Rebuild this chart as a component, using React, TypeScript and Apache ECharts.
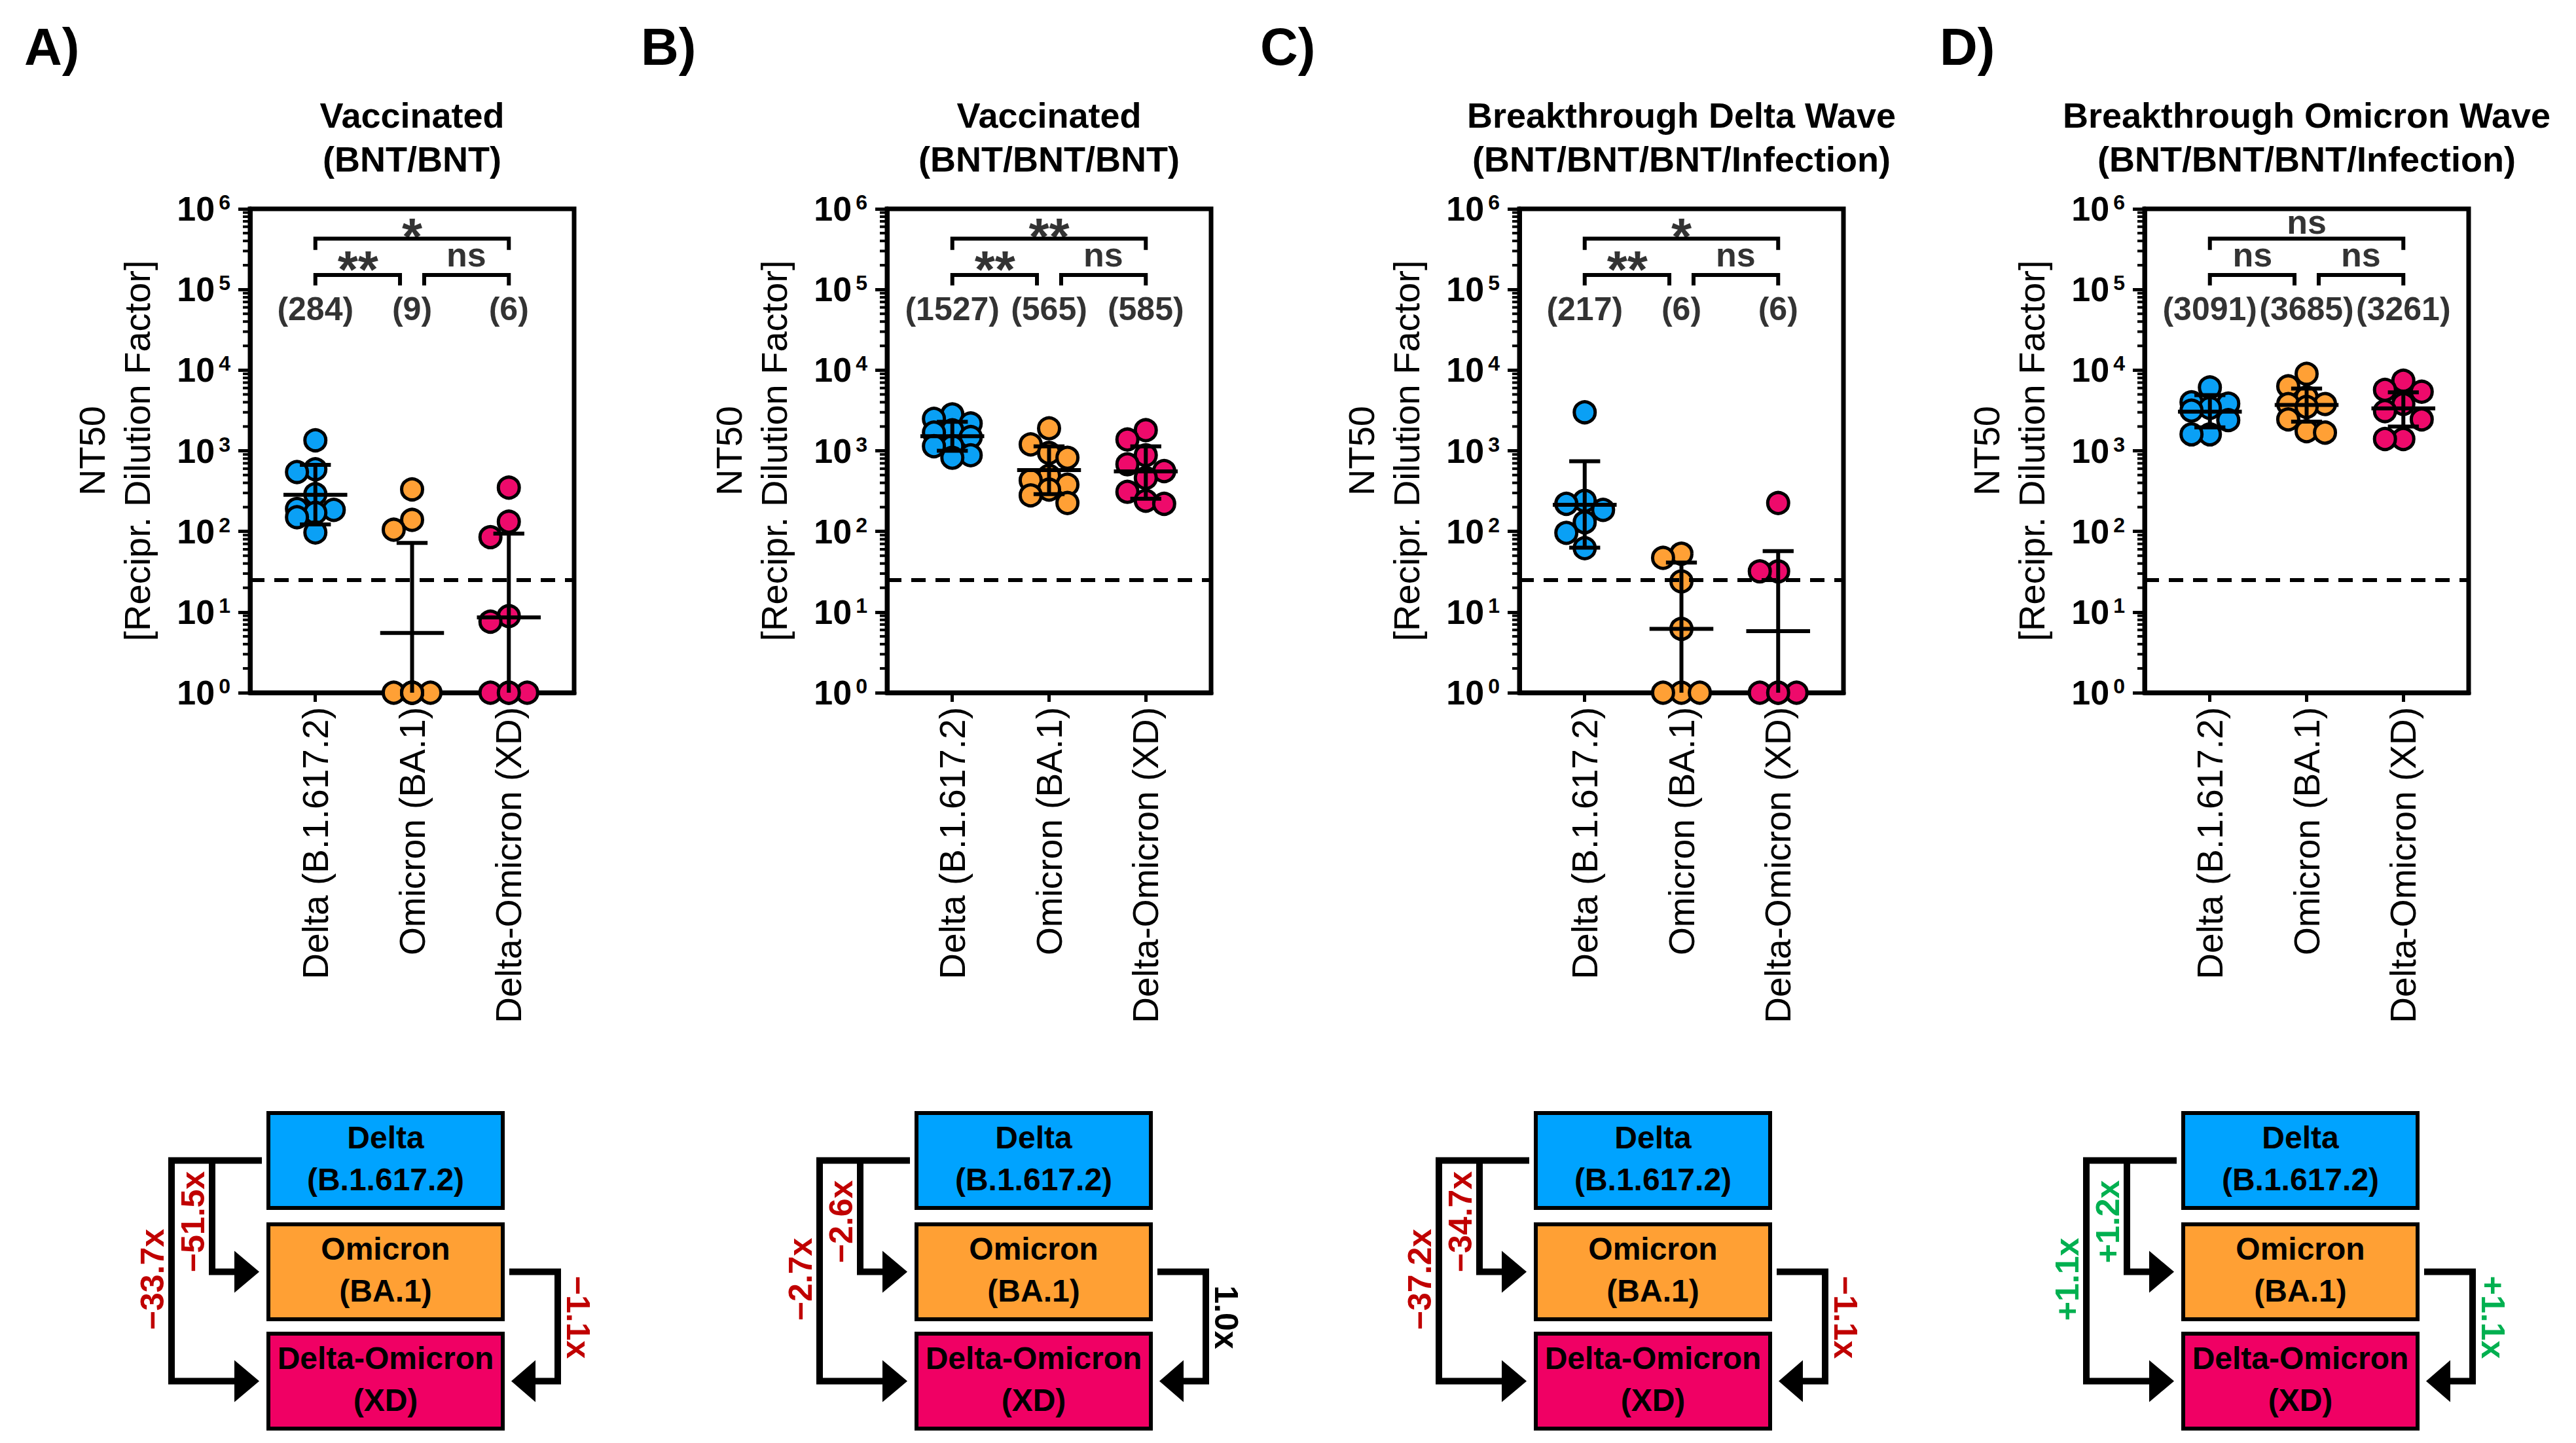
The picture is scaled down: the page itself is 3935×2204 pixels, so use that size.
import React, { useEffect, useRef } from 'react';
import * as echarts from 'echarts';

const FONT = "'Liberation Sans', Arial, Helvetica, sans-serif";

// ---------- data ----------
const categories = ['Delta (B.1.617.2)', 'Omicron (BA.1)', 'Delta-Omicron (XD)'];
const panelLetters = ['A)', 'B)', 'C)', 'D)'];
const panelTitles = [
  'Vaccinated\n(BNT/BNT)',
  'Vaccinated\n(BNT/BNT/BNT)',
  'Breakthrough Delta Wave\n(BNT/BNT/BNT/Infection)',
  'Breakthrough Omicron Wave\n(BNT/BNT/BNT/Infection)',
];

// individual NT50 values
const deltaA = [1350, 590, 545, 290, 190, 185, 170, 150, 97];
const omicronA = [332, 139, 105, 1, 1, 1, 1, 1, 1];
const xdA = [349, 132, 85, 8.9, 7.6, 1, 1, 1, 1];
const deltaB = [2830, 2490, 2180, 1795, 1680, 1480, 1140, 1140, 880, 820];
const omicronB = [1900, 1200, 940, 820, 490, 430, 380, 330, 280, 225];
const xdB = [1800, 1380, 880, 680, 560, 460, 310, 240, 220];
const deltaC = [3000, 240, 220, 185, 130, 96, 62];
const omicronC = [53, 47, 24, 6.2, 1, 1, 1];
const xdC = [225, 32, 32, 1, 1, 1, 1];
const deltaD = [6100, 4000, 3850, 3400, 3150, 2400, 1600, 1600];
const omicronD = [9000, 6300, 4600, 3800, 3800, 3500, 2450, 1750, 1680];
const xdD = [7400, 5700, 5400, 3800, 3100, 2450, 1400, 1400];

// mean lines and error bars as drawn
const meanA = [284, 5.5, 8.6];
const errLowA = [122, 1, 1];
const errHighA = [670, 72, 94];
const meanB = [1515, 575, 556];
const errLowB = [1000, 290, 254];
const errHighB = [2290, 1137, 1137];
const meanC = [214, 6.2, 5.8];
const errLowC = [63, 1, 1];
const errHighC = [740, 41, 57];
const meanD = [3060, 3700, 3360];
const errLowD = [1950, 2300, 2000];
const errHighD = [4900, 5900, 5300];

// geometric mean titre labels
const gmtA = [284, 9, 6];
const gmtB = [1527, 565, 585];
const gmtC = [217, 6, 6];
const gmtD = [3091, 3685, 3261];

// significance: [Delta vs XD (top), Delta vs Omicron, Omicron vs XD]
const sigA = ['*', '**', 'ns'];
const sigB = ['**', '**', 'ns'];
const sigC = ['*', '**', 'ns'];
const sigD = ['ns', 'ns', 'ns'];

// fold changes
const foldDeltaOmicron = [-51.5, -2.6, -34.7, 1.2];
const foldDeltaXD = [-33.7, -2.7, -37.2, 1.1];
const foldOmicronXD = [-1.1, 1.0, -1.1, 1.1];

const detectionLimit = 25;
const boxLabels = ['Delta\n(B.1.617.2)', 'Omicron\n(BA.1)', 'Delta-Omicron\n(XD)'];

// ---------- styles / layout ----------
const pointColors = ['#0AA0F5', '#FFA035', '#EE0A6B'];
const boxColors = ['#00A3FF', '#FFA034', '#F00064'];
const RED = '#C00000';
const GREEN = '#00B050';

const gridLefts = [382, 1355, 2321, 3276];
const GRID_TOP = 319;
const GRID_W = 495;
const GRID_H = 739;
const X_MIN = -0.675;
const X_MAX = 2.675;
const letterX = [37, 979, 1925, 2963];
const boxLefts = [410, 1400, 2346, 3335];
const BOX_W = 358;
const boxTops = [1700, 1870, 2037];
const BOX_H = 145;

const panels = [
  { values: [deltaA, omicronA, xdA], mean: meanA, lo: errLowA, hi: errHighA, gmt: gmtA, sig: sigA },
  { values: [deltaB, omicronB, xdB], mean: meanB, lo: errLowB, hi: errHighB, gmt: gmtB, sig: sigB },
  { values: [deltaC, omicronC, xdC], mean: meanC, lo: errLowC, hi: errHighC, gmt: gmtC, sig: sigC },
  { values: [deltaD, omicronD, xdD], mean: meanD, lo: errLowD, hi: errHighD, gmt: gmtD, sig: sigD },
];

function swarm(values: number[]): number[] {
  const pxX = GRID_W / (X_MAX - X_MIN);
  const pxY = GRID_H / 6;
  const cands = [0, -0.19, 0.19, -0.1, 0.1];
  const placed: { x: number; y: number }[] = [];
  return values.map((v) => {
    const y = Math.log10(v) * pxY;
    let best = 0;
    let bestD = -1;
    let chosen: number | null = null;
    for (let k = 0; k < cands.length; k++) {
      const x = cands[k] * pxX;
      let md = Infinity;
      for (const p of placed) md = Math.min(md, Math.hypot(p.x - x, p.y - y));
      if (md >= 28) {
        chosen = cands[k];
        break;
      }
      if (k < 3 && md > bestD) {
        bestD = md;
        best = cands[k];
      }
    }
    const off = chosen ?? best;
    placed.push({ x: off * pxX, y });
    return off;
  });
}

const fmtFold = (v: number) =>
  v < 0 ? '\u2212' + Math.abs(v).toFixed(1) + 'x' : v === 1 ? '1.0x' : '+' + v.toFixed(1) + 'x';
const foldColor = (v: number) => (v < 0 ? RED : v === 1 ? '#000' : GREEN);

function buildOption() {
  const grids: any[] = [];
  const xAxes: any[] = [];
  const yAxes: any[] = [];
  const series: any[] = [];
  const graphics: any[] = [];

  const minorValues: number[][] = [];
  for (let k = 0; k < 6; k++) for (let m = 2; m <= 9; m++) minorValues.push([X_MIN, m * Math.pow(10, k)]);

  const BR_TOP = Math.pow(10, 5.63);
  const BR_TOP_LEG = Math.pow(10, 5.49);
  const BR_LOW = Math.pow(10, 5.18);
  const BR_LOW_LEG = Math.pow(10, 5.05);
  const brackets = [
    [[0, BR_TOP_LEG], [0, BR_TOP], [2, BR_TOP], [2, BR_TOP_LEG]],
    [[0, BR_LOW_LEG], [0, BR_LOW], [0.875, BR_LOW], [0.875, BR_LOW_LEG]],
    [[1.125, BR_LOW_LEG], [1.125, BR_LOW], [2, BR_LOW], [2, BR_LOW_LEG]],
  ];
  const sigPos = [
    [1.0, 5.8],
    [0.44, 5.39],
    [1.56, 5.39],
  ];

  panels.forEach((pan, p) => {
    grids.push({
      left: gridLefts[p],
      top: GRID_TOP,
      width: GRID_W,
      height: GRID_H,
      show: true,
      borderColor: '#000',
      borderWidth: 7,
      backgroundColor: 'transparent',
    });
    xAxes.push({
      type: 'value',
      gridIndex: p,
      min: X_MIN,
      max: X_MAX,
      splitLine: { show: false },
      axisLine: { show: true, onZero: false, lineStyle: { color: '#000', width: 7 } },
      axisTick: { show: true, customValues: [0, 1, 2], length: 14, lineStyle: { color: '#000', width: 5 } },
      axisLabel: {
        show: true,
        customValues: [0, 1, 2],
        rotate: 90,
        margin: 22,
        formatter: (v: number) => categories[Math.round(v)] ?? '',
        fontFamily: FONT,
        fontSize: 55,
        color: '#000',
      },
    });
    yAxes.push({
      type: 'log',
      logBase: 10,
      gridIndex: p,
      min: 1,
      max: 1000000,
      splitLine: { show: false },
      axisLine: { show: true, onZero: false, lineStyle: { color: '#000', width: 7 } },
      axisTick: { show: true, length: 18, lineStyle: { color: '#000', width: 5 } },
      axisLabel: {
        margin: 30,
        formatter: (v: number) => `{b|10}{s|${Math.round(Math.log10(v))}}`,
        rich: {
          b: { fontSize: 52, fontWeight: 'bold', fontFamily: FONT, color: '#000' },
          s: { fontSize: 32, fontWeight: 'bold', fontFamily: FONT, color: '#000', verticalAlign: 'top', padding: [0, 0, 0, 6] },
        },
      },
      name: 'NT50\n[Recipr. Dilution Factor]',
      nameLocation: 'middle',
      nameGap: 138,
      nameTextStyle: { fontFamily: FONT, fontSize: 56, lineHeight: 69, color: '#000' },
    });

    // minor ticks
    series.push({
      type: 'custom',
      xAxisIndex: p,
      yAxisIndex: p,
      silent: true,
      clip: false,
      z: 5,
      data: minorValues,
      encode: { x: 0, y: 1 },
      renderItem: (_params: any, api: any) => {
        const pt = api.coord([api.value(0), api.value(1)]);
        return {
          type: 'line',
          shape: { x1: pt[0] - 11, y1: pt[1], x2: pt[0], y2: pt[1] },
          style: { stroke: '#000', lineWidth: 4 },
        };
      },
    });

    // points
    pan.values.forEach((vals, g) => {
      const offs = swarm(vals);
      series.push({
        type: 'scatter',
        name: categories[g],
        xAxisIndex: p,
        yAxisIndex: p,
        silent: true,
        z: 3,
        symbol: 'circle',
        symbolSize: 32,
        itemStyle: { color: pointColors[g], borderColor: '#000', borderWidth: 5, opacity: 1 },
        data: vals.map((v, i) => [g + offs[i], v]),
      });
    });

    // mean and error bars
    series.push({
      type: 'custom',
      xAxisIndex: p,
      yAxisIndex: p,
      silent: true,
      clip: false,
      z: 6,
      dimensions: ['x', 'm', 'lo', 'hi'],
      encode: { x: 0, y: 1 },
      data: [0, 1, 2].map((g) => [g, pan.mean[g], pan.lo[g], pan.hi[g]]),
      renderItem: (_params: any, api: any) => {
        const x = api.value(0);
        const m = api.value(1);
        const lo = api.value(2);
        const hi = api.value(3);
        const c = api.coord([x, m]);
        const cl = api.coord([x, lo]);
        const ch = api.coord([x, hi]);
        const ux = api.coord([x + 1, m])[0] - c[0];
        const mh = 0.33 * ux;
        const chw = 0.16 * ux;
        const st = { stroke: '#000', lineWidth: 6 };
        const children: any[] = [
          { type: 'line', shape: { x1: c[0] - mh, y1: c[1], x2: c[0] + mh, y2: c[1] }, style: st },
          { type: 'line', shape: { x1: c[0], y1: cl[1], x2: c[0], y2: ch[1] }, style: st },
          { type: 'line', shape: { x1: c[0] - chw, y1: ch[1], x2: c[0] + chw, y2: ch[1] }, style: st },
        ];
        if (lo > 1) {
          children.push({ type: 'line', shape: { x1: c[0] - chw, y1: cl[1], x2: c[0] + chw, y2: cl[1] }, style: st });
        }
        return { type: 'group', children };
      },
    });

    // brackets
    brackets.forEach((b, k) => {
      const s: any = {
        type: 'line',
        xAxisIndex: p,
        yAxisIndex: p,
        silent: true,
        symbol: 'none',
        z: 4,
        lineStyle: { color: '#000', width: 6, join: 'miter', cap: 'butt' },
        data: b,
      };
      if (k === 0) {
        s.markLine = {
          silent: true,
          symbol: ['none', 'none'],
          label: { show: false },
          lineStyle: { color: '#000', width: 6, type: [22, 15] },
          data: [{ yAxis: detectionLimit }],
        };
      }
      series.push(s);
    });

    // significance + GMT labels
    const labelData: any[] = [];
    pan.sig.forEach((t, k) => {
      const star = t.indexOf('*') >= 0;
      const y = Math.pow(10, sigPos[k][1] + (star ? -0.143 : 0.04));
      labelData.push({
        value: [sigPos[k][0], y],
        name: t,
        label: { fontSize: star ? 80 : 52 },
      });
    });
    pan.gmt.forEach((gv, g) => {
      labelData.push({ value: [g, Math.pow(10, 4.76)], name: `(${gv})`, label: { fontSize: 50 } });
    });
    series.push({
      type: 'scatter',
      xAxisIndex: p,
      yAxisIndex: p,
      silent: true,
      z: 7,
      symbol: 'circle',
      symbolSize: 1,
      itemStyle: { color: 'rgba(0,0,0,0)' },
      label: {
        show: true,
        position: 'inside',
        formatter: '{b}',
        fontFamily: FONT,
        fontWeight: 'bold',
        color: '#000',
        textBorderWidth: 0,
      },
      data: labelData,
    });

    // letters and titles
    graphics.push({
      type: 'text',
      x: letterX[p],
      y: 71,
      style: { text: panelLetters[p], fill: '#000', fontFamily: FONT, fontWeight: 'bold', fontSize: 80, align: 'left', verticalAlign: 'middle' },
    });
    graphics.push({
      type: 'text',
      x: gridLefts[p] + GRID_W / 2,
      y: 209,
      style: {
        text: panelTitles[p],
        fill: '#000',
        fontFamily: FONT,
        fontWeight: 'bold',
        fontSize: 54,
        lineHeight: 67,
        align: 'center',
        verticalAlign: 'middle',
      },
    });

    // diagram
    const L = boxLefts[p];
    const R = L + BOX_W;
    const cy = boxTops.map((t) => t + BOX_H / 2);
    boxTops.forEach((t, k) => {
      graphics.push({
        type: 'rect',
        shape: { x: L, y: t, width: BOX_W, height: BOX_H },
        style: { fill: boxColors[k], stroke: '#000', lineWidth: 6 },
      });
      graphics.push({
        type: 'text',
        x: L + BOX_W / 2,
        y: cy[k] - 3,
        style: {
          text: boxLabels[k],
          fill: '#000',
          fontFamily: FONT,
          fontWeight: 'bold',
          fontSize: 48,
          lineHeight: 64,
          align: 'center',
          verticalAlign: 'middle',
        },
      });
    });
    const lineSt = { stroke: '#000', lineWidth: 10, fill: 'none', lineJoin: 'miter', lineCap: 'butt' };
    graphics.push({ type: 'polyline', shape: { points: [[L - 10, cy[0]], [L - 148, cy[0]], [L - 148, cy[2]], [L - 50, cy[2]]] }, style: lineSt });
    graphics.push({ type: 'polyline', shape: { points: [[L - 86, cy[0]], [L - 86, cy[1]], [L - 50, cy[1]]] }, style: lineSt });
    graphics.push({ type: 'polyline', shape: { points: [[R + 10, cy[1]], [R + 84, cy[1]], [R + 84, cy[2]], [R + 48, cy[2]]] }, style: lineSt });
    graphics.push({ type: 'polygon', shape: { points: [[L - 52, cy[1] - 32], [L - 14, cy[1]], [L - 52, cy[1] + 32]] }, style: { fill: '#000' } });
    graphics.push({ type: 'polygon', shape: { points: [[L - 52, cy[2] - 32], [L - 14, cy[2]], [L - 52, cy[2] + 32]] }, style: { fill: '#000' } });
    graphics.push({ type: 'polygon', shape: { points: [[R + 50, cy[2] - 32], [R + 13, cy[2]], [R + 50, cy[2] + 32]] }, style: { fill: '#000' } });

    const foldText = (v: number, x: number, y: number, rot: number) => ({
      type: 'text',
      x,
      y,
      rotation: rot,
      style: {
        text: fmtFold(v),
        fill: foldColor(v),
        fontFamily: FONT,
        fontWeight: 'bold',
        fontSize: 50,
        align: 'center',
        verticalAlign: 'middle',
      },
    });
    graphics.push(foldText(foldDeltaOmicron[p], L - 115, 1866, Math.PI / 2));
    graphics.push(foldText(foldDeltaXD[p], L - 177, 1954, Math.PI / 2));
    graphics.push(foldText(foldOmicronXD[p], R + 115, 2012, -Math.PI / 2));
  });

  return {
    animation: false,
    backgroundColor: '#ffffff',
    textStyle: { fontFamily: FONT },
    grid: grids,
    xAxis: xAxes,
    yAxis: yAxes,
    series,
    graphic: { elements: graphics },
  };
}

export default function App() {
  const ref = useRef<HTMLDivElement>(null);
  useEffect(() => {
    const chart = echarts.init(ref.current as HTMLDivElement, null, { renderer: 'svg' });
    chart.setOption(buildOption() as any);
    return () => chart.dispose();
  }, []);
  return (
    <div
      ref={ref}
      style={{ position: 'fixed', left: 0, top: 0, width: 3935, height: 2204, background: '#fff' }}
    />
  );
}
